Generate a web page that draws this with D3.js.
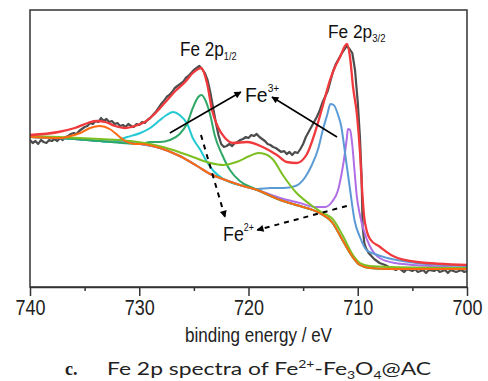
<!DOCTYPE html>
<html><head><meta charset="utf-8">
<script src="https://cdn.jsdelivr.net/npm/d3@7"></script>
<style>body{margin:0;background:#fff;} svg{display:block;}</style>
</head><body><svg id="c" width="488" height="381"></svg>
<script>
// ---------- data (binding energy eV, intensity a.u.) ----------
const xTickValues = [740, 730, 720, 710, 700];
const xMinorTicks = [735, 725, 715, 705];
const xTitle = "binding energy / eV";

const rawData = [[740.0,147],[739.75,144],[739.5,146],[739.25,143],[739.0,147],[738.75,145],[738.5,144],[738.25,147],[738.0,146],[737.75,148],[737.5,146],[737.25,149],[737.0,147],[736.75,150],[736.5,151],[736.25,153],[736.0,154],[735.75,153],[735.5,156],[735.25,158],[735.0,160],[734.75,161],[734.5,164],[734.25,163],[734.0,166],[733.75,165],[733.5,169],[733.25,166],[733.0,168],[732.75,165],[732.5,166],[732.25,163],[732.0,164],[731.75,161],[731.5,162],[731.25,160],[731.0,163],[730.75,161],[730.5,160],[730.25,163],[730.0,162],[729.75,165],[729.5,164],[729.25,167],[729.0,169],[728.75,172],[728.5,175],[728.25,179],[728.0,183],[727.75,186],[727.5,190],[727.25,192],[727.0,195],[726.75,199],[726.5,201],[726.25,203],[726.0,205],[725.75,209],[725.5,211],[725.25,214],[725.0,217],[724.75,219],[724.5,221],[724.25,218],[724.0,214],[723.75,207],[723.5,195],[723.25,180],[723.0,165],[722.75,152],[722.5,143],[722.25,140],[722.0,141],[721.75,143],[721.5,141],[721.25,144],[721.0,145],[720.75,147],[720.5,148],[720.25,150],[720.0,149],[719.75,152],[719.5,151],[719.25,153],[719.0,150],[718.75,148],[718.5,146],[718.25,143],[718.0,142],[717.75,140],[717.5,139],[717.25,137],[717.0,135],[716.75,136],[716.5,133],[716.25,135],[716.0,132],[715.75,135],[715.5,134],[715.25,138],[715.0,143],[714.75,150],[714.5,155],[714.25,160],[714.0,165],[713.75,170],[713.5,176],[713.25,184],[713.0,190],[712.75,196],[712.5,206],[712.25,216],[712.0,223],[711.75,228],[711.5,233],[711.25,237],[711.0,241],[710.75,238],[710.5,234],[710.25,217],[710.0,185],[709.8,150],[709.65,110],[709.55,60],[709.4,44],[709.25,39],[709.0,34],[708.75,31],[708.5,28],[708.25,26],[708.0,24],[707.5,22],[707.0,19],[706.5,17],[706.25,19],[706.0,17],[705.75,15],[705.5,18],[705.0,16],[704.75,18],[704.5,15],[704.0,17],[703.75,14],[703.5,17],[703.0,16],[702.75,18],[702.5,15],[702.0,17],[701.75,14],[701.5,17],[701.0,15],[700.5,17],[700.25,15],[700.0,16]];

const envelope = [[740.0,152],[737.4,155],[735.9,159],[734.7,164],[733.9,166],[733.1,165],[732.2,161],[731.3,159],[730.4,161],[729.5,165],[728.6,173],[727.6,185],[726.7,196],[725.8,205],[725.1,214],[724.6,218],[724.35,219],[723.8,204],[723.34,177],[722.8,160],[722.15,149],[721.4,144],[720.14,145],[718.7,140],[717.4,132],[716.5,125],[715.6,124],[714.7,132],[713.73,161],[713.18,182],[712.54,207],[712.08,220],[711.62,230],[711.17,241],[710.98,243],[710.71,230],[710.43,200],[710.07,172],[709.79,134],[709.6,97],[709.43,72],[709.15,55],[708.88,48],[707.96,40],[706.77,31],[704.58,25],[700.0,22]];

const background = [[740.0,150],[737.3,149],[733.6,146],[729.9,143],[728.1,139],[726.3,131],[724.7,121],[723.5,113],[722.6,109],[720.8,102],[719.2,97],[717.1,87],[715.3,81],[713.5,74],[712.3,64],[711.4,47],[710.4,29],[709.8,22],[708.9,19],[707.0,18],[700.0,18]];

const sat733 = [[737.3,149],[736.3,151],[735.4,154],[734.5,159],[733.6,161],[732.7,158],[731.9,151],[731.3,146],[730.4,143]];
const fe3_2p12 = [[732.7,145],[731.1,150],[729.9,154],[729.0,159],[728.1,167],[727.5,172],[726.9,175],[726.3,172],[725.6,163],[725.1,149],[724.4,137],[723.8,125],[723.2,116],[722.3,108],[721.2,103]];
const fe2_2p12 = [[729.0,145],[728.1,145],[727.2,147],[726.3,153],[725.6,164],[725.1,179],[724.6,190],[724.3,192],[724.0,188],[723.5,172],[723.1,152],[722.4,132],[721.7,117],[720.8,106],[719.6,99]];
const sat719 = [[740.0,151],[737.3,150],[733.6,148],[730.8,146],[729.0,143],[726.9,137],[725.1,130],[723.5,124],[722.3,122],[721.1,125],[719.9,131],[719.1,134],[718.5,133],[717.8,128],[716.8,111],[715.6,94],[714.4,83],[713.2,74],[712.3,68],[711.4,52],[710.5,33],[709.8,24],[708.9,21],[707.0,20],[700.0,19]];
const fe3_2p32 = [[719.2,98],[718.0,99],[716.8,99],[715.7,101],[714.8,110],[714.2,122],[713.6,139],[713.2,157],[712.8,172],[712.5,183],[712.2,182],[711.8,172],[711.5,160],[711.2,137],[710.7,97],[710.3,67],[709.8,50],[709.2,37],[708.2,32],[707.3,29],[704.6,24],[700.0,21]];
const fe2_2p32 = [[719.2,97],[717.1,89],[715.3,84],[713.9,80],[713.0,80],[712.3,86],[711.8,97],[711.5,112],[711.2,132],[711.0,149],[710.9,158],[710.7,157],[710.5,142],[710.3,117],[710.1,92],[709.8,72],[709.4,55],[708.9,41],[708.0,29],[706.6,24],[703.4,21],[700.0,19]];

// ---------- chart ----------
const svg = d3.select("#c");
const P = {l: 30, r: 467, t: 10, b: 287};
const x = d3.scaleLinear().domain([740, 700]).range([P.l, P.r]);
const y = d3.scaleLinear().domain([0, 277]).range([P.b, P.t]);
const SANS = "'Liberation Sans Narrow','Arial Narrow','Liberation Sans',Arial,sans-serif";
const LSANS = "'Liberation Sans',Arial,sans-serif";

svg.append("defs").append("clipPath").attr("id", "clip")
  .append("rect").attr("x", P.l).attr("y", P.t).attr("width", P.r - P.l).attr("height", P.b - P.t);
const mk = svg.select("defs").append("marker").attr("id", "ah")
  .attr("viewBox", "0 0 10 10").attr("refX", 9).attr("refY", 5)
  .attr("markerWidth", 10).attr("markerHeight", 7).attr("markerUnits", "userSpaceOnUse")
  .attr("orient", "auto");
mk.append("path").attr("d", "M0,0 L10,5 L0,10 Z").attr("fill", "#000");

function withBg(peak) {
  const hi = peak[0][0], lo = peak[peak.length - 1][0];
  return background.filter(d => d[0] > hi).concat(peak, background.filter(d => d[0] < lo));
}

const line = d3.line().x(d => x(d[0])).y(d => y(d[1])).curve(d3.curveMonotoneX);
const rawLine = d3.line().x(d => x(d[0])).y(d => y(d[1]));

const g = svg.append("g").attr("clip-path", "url(#clip)");
g.append("path").attr("d", rawLine(rawData)).attr("fill", "none")
  .attr("stroke", "#4d4d4d").attr("stroke-width", 2.2).attr("stroke-linejoin", "round");

const comps = [
  {d: withBg(fe2_2p32), c: "#b06ee6"},
  {d: withBg(fe3_2p32), c: "#5b9bd5"},
  {d: withBg(fe3_2p12), c: "#22c8d2"},
  {d: withBg(fe2_2p12), c: "#2fa868"},
  {d: sat719, c: "#7cbf22"},
  {d: withBg(sat733), c: "#ff6a10"}
];
comps.forEach(s => g.append("path").attr("d", line(s.d)).attr("fill", "none")
  .attr("stroke", s.c).attr("stroke-width", 2));
g.append("path").attr("d", line(envelope)).attr("fill", "none")
  .attr("stroke", "#f0393c").attr("stroke-width", 2.3);

// frame
svg.append("rect").attr("x", P.l).attr("y", P.t).attr("width", P.r - P.l).attr("height", P.b - P.t)
  .attr("fill", "none").attr("stroke", "#333").attr("stroke-width", 1.5);

// axis
const ax = svg.append("g").attr("transform", `translate(0,${P.b})`)
  .call(d3.axisBottom(x).tickValues(xTickValues).tickSize(9).tickSizeOuter(0).tickFormat(d3.format("d")));
ax.select(".domain").attr("stroke", "#333").attr("stroke-width", 1.5);
ax.selectAll(".tick line").attr("stroke", "#333").attr("stroke-width", 1.5);
ax.selectAll(".tick text").attr("font-family", SANS).attr("font-size", 22).attr("fill", "#222")
  .attr("y", 12).attr("textLength", 30).attr("lengthAdjust", "spacingAndGlyphs");
const axm = svg.append("g").attr("transform", `translate(0,${P.b})`)
  .call(d3.axisBottom(x).tickValues(xMinorTicks).tickSize(4).tickFormat(""));
axm.select(".domain").remove();
axm.selectAll(".tick line").attr("stroke", "#333").attr("stroke-width", 1.5);

svg.append("text").attr("x", 258.5).attr("y", 342).attr("text-anchor", "middle")
  .attr("font-family", SANS).attr("font-size", 20.5).attr("fill", "#222")
  .attr("textLength", 147).attr("lengthAdjust", "spacingAndGlyphs").text(xTitle);

// annotations
function arrow(a, b, dashed) {
  svg.append("line").attr("x1", x(a[0])).attr("y1", y(a[1])).attr("x2", x(b[0])).attr("y2", y(b[1]))
    .attr("stroke", "#000").attr("stroke-width", dashed ? 2 : 1.6)
    .attr("stroke-dasharray", dashed ? "5,5" : null).attr("marker-end", "url(#ah)");
}
arrow([727.2, 154], [720.7, 195], false);
arrow([711.9, 150], [717.85, 190], false);
arrow([724.35, 152], [722.15, 70], true);
arrow([711.0, 81], [719.2, 57], true);

function label(E, v, main, small, smallDy, sx, size, smallSize) {
  const t = svg.append("text")
    .attr("transform", `translate(${x(E)},${y(v)}) scale(${sx},1)`)
    .attr("font-family", LSANS).attr("font-size", size).attr("fill", "#111");
  t.append("tspan").text(main);
  t.append("tspan").attr("font-size", smallSize).attr("dy", smallDy).text(small);
}
label(726.27, 231, "Fe 2p", "1/2", 4, 0.88, 19.5, 10.5);
label(712.72, 249, "Fe 2p", "3/2", 4, 0.91, 19, 10.5);
label(720.32, 185, "Fe", "3+", -10, 0.97, 20, 10.5);
label(722.33, 46, "Fe", "2+", -10, 0.89, 20, 10);

// caption
svg.append("text").attr("x", 65).attr("y", 375).attr("font-family", "'Liberation Serif',serif")
  .attr("font-weight", "bold").attr("font-size", 18).attr("fill", "#222").text("c.");
const cap = svg.append("text").attr("x", 107).attr("y", 375).attr("font-family", "Lato,'Noto Sans',sans-serif")
  .attr("font-size", 18).attr("fill", "#222").attr("textLength", 324).attr("lengthAdjust", "spacingAndGlyphs");
cap.append("tspan").text("Fe 2p spectra of Fe");
cap.append("tspan").attr("font-size", 11).attr("dy", -7).text("2+");
cap.append("tspan").attr("dy", 7).text("-Fe");
cap.append("tspan").attr("font-size", 11).attr("dy", 4).text("3");
cap.append("tspan").attr("dy", -4).text("O");
cap.append("tspan").attr("font-size", 11).attr("dy", 4).text("4");
cap.append("tspan").attr("dy", -4).text("@AC");
</script></body></html>
